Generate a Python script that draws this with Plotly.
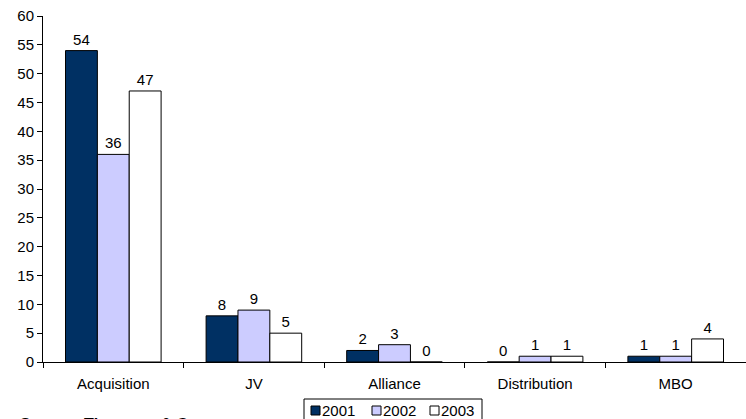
import plotly.graph_objects as go

categories = ["Acquisition", "JV", "Alliance", "Distribution", "MBO"]
years = ["2001", "2002", "2003"]
deals_2001 = [54, 8, 2, 0, 1]
deals_2002 = [36, 9, 3, 1, 1]
deals_2003 = [47, 5, 0, 1, 4]

series = [deals_2001, deals_2002, deals_2003]
colors = ["#003063", "#CCCCFF", "#FFFFFF"]

W, H = 746, 419
ML, MR, MT, MB = 43, 0, 16, 57
PW, PH = W - ML - MR, H - MT - MB
FONT = "Arial, 'Liberation Sans', sans-serif"


def px_x(x):
    return (x - ML) / PW


def px_y(y):
    return (H - MB - y) / PH


fig = go.Figure()
for name, vals, col in zip(years, series, colors):
    fig.add_trace(go.Bar(
        x=categories, y=vals, name=name,
        marker=dict(color=col, line=dict(color="#000000", width=1)),
        text=[str(v) for v in vals], textposition="outside",
        textfont=dict(family=FONT, size=15, color="#000000"),
        cliponaxis=False, showlegend=False,
    ))

# legend drawn as a boxed row of swatches and labels
shapes = [dict(type="rect", xref="paper", yref="paper",
               x0=px_x(304), x1=px_x(482), y0=px_y(426), y1=px_y(399),
               line=dict(color="#000000", width=1), fillcolor="rgba(0,0,0,0)")]
annotations = []
swatch_x = [311, 372, 430]
for sx, name, col in zip(swatch_x, years, colors):
    shapes.append(dict(type="rect", xref="paper", yref="paper",
                       x0=px_x(sx), x1=px_x(sx + 9), y0=px_y(415), y1=px_y(406),
                       line=dict(color="#000000", width=1), fillcolor=col))
    annotations.append(dict(xref="paper", yref="paper", x=px_x(sx + 9), y=px_y(410.5),
                            xanchor="left", yanchor="middle", text=name, showarrow=False,
                            font=dict(family=FONT, size=15, color="#000000")))

# source note along the bottom edge
annotations.append(dict(xref="paper", yref="paper", x=px_x(18), y=px_y(413.5),
                        xanchor="left", yanchor="top", text="<b>Source: Thomson &amp; Co</b>",
                        showarrow=False, font=dict(family=FONT, size=16, color="#000000")))

fig.update_layout(
    width=W, height=H,
    margin=dict(l=ML, r=MR, t=MT, b=MB, pad=0),
    paper_bgcolor="#FFFFFF", plot_bgcolor="#FFFFFF",
    barmode="group", bargap=0.32, bargroupgap=0,
    font=dict(family=FONT, size=15, color="#000000"),
    shapes=shapes, annotations=annotations,
    showlegend=False,
)
fig.update_xaxes(
    showline=True, linecolor="#000000", linewidth=1,
    ticks="outside", tickson="boundaries", ticklen=5, tickcolor="#000000",
    showgrid=False, zeroline=False, ticklabelstandoff=8,
    tickfont=dict(family=FONT, size=15, color="#000000"),
)
fig.update_yaxes(
    range=[0, 60], dtick=5, tick0=0,
    showline=True, linecolor="#000000", linewidth=1,
    ticks="outside", ticklen=5, tickcolor="#000000",
    showgrid=False, zeroline=False,
    tickfont=dict(family=FONT, size=15, color="#000000"),
)

fig.write_html("out.html")
